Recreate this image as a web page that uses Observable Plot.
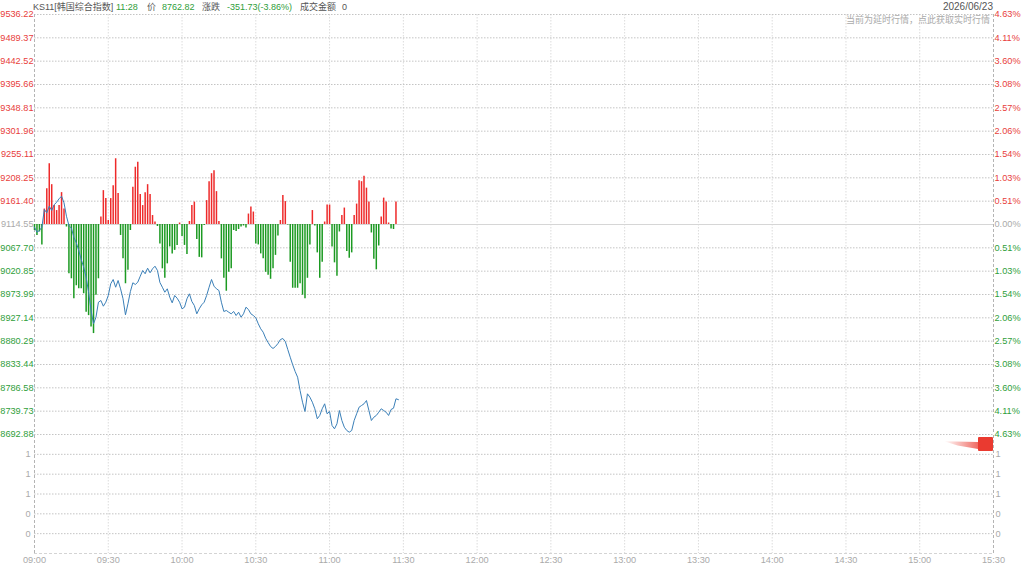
<!DOCTYPE html>
<html>
<head>
<meta charset="utf-8">
<script src="https://cdn.jsdelivr.net/npm/d3@7"></script>
<script src="https://cdn.jsdelivr.net/npm/@observablehq/plot@0.6"></script>
<style>
  body { margin: 0; background: #fff; }
  #chart { position: relative; width: 1024px; height: 568px; overflow: hidden;
    font-family: "Liberation Sans", "Noto Sans CJK SC", sans-serif; }
  #chart svg { position: absolute; left: 0; }
  .hd { position: absolute; top: 0; font-size: 9px; line-height: 14px; white-space: nowrap; }
  .gray { color: #555; }
  .green { color: #2f9e3a; }
  #marker { position: absolute; left: 978px; top: 437px; width: 15px; height: 14px;
    background: #ea3a30; border-radius: 1px; }
  #tail { position: absolute; left: 944px; top: 437px; width: 34px; height: 14px;
    background: linear-gradient(to right, rgba(234,58,48,0), rgba(234,58,48,0.75));
    clip-path: polygon(0 30%, 100% 35%, 100% 85%, 40% 60%); }
</style>
</head>
<body>
<div id="chart"></div>
<script>
// KS11 intraday, 2026/06/23, one value per minute from 09:00 to 11:28
const prevClose = 9114.55;

const timeLabels = ["09:00", "09:30", "10:00", "10:30", "11:00", "11:30", "12:00",
  "12:30", "13:00", "13:30", "14:00", "14:30", "15:00", "15:30"];

const priceTicks = [9536.22, 9489.37, 9442.52, 9395.66, 9348.81, 9301.96, 9255.11,
  9208.25, 9161.40, 9114.55, 9067.70, 9020.85, 8973.99, 8927.14, 8880.29, 8833.44,
  8786.58, 8739.73, 8692.88];

const volumeTicks = [1.0, 0.8, 0.6, 0.4, 0.2];

const prices = [
  9109.1, 9099.1, 9102.5, 9109.1, 9144.7, 9138.0, 9151.3, 9142.7, 9154.1, 9159.3,
  9166.2, 9171.4, 9158.1, 9131.2, 9112.5, 9107.1, 9089.0, 9077.8, 9062.3, 9044.3,
  9028.8, 9008.7, 8978.6, 8941.9, 8915.2, 8928.4, 8958.5, 8961.9, 8950.5, 8958.5,
  8972.0, 8995.5, 9004.1, 8988.6, 9002.1, 8985.4, 8965.4, 8933.2, 8955.3, 8980.0,
  8997.5, 8994.1, 8998.7, 9010.7, 9022.2, 9015.6, 9026.8, 9017.6, 9025.6, 9030.8,
  9022.2, 8998.1, 8988.6, 8978.6, 8985.4, 8968.6, 8957.3, 8972.0, 8966.6, 8958.5,
  8945.3, 8948.5, 8965.4, 8975.4, 8959.9, 8951.9, 8935.2, 8945.3, 8953.3, 8958.5,
  8972.0, 8988.6, 9004.1, 8990.7, 8985.4, 8982.0, 8958.5, 8939.9, 8941.9, 8938.4,
  8935.2, 8939.9, 8931.8, 8938.4, 8928.4, 8935.2, 8948.5, 8943.9, 8935.2, 8931.8,
  8927.2, 8915.2, 8905.1, 8898.3, 8886.2, 8877.6, 8869.6, 8865.6, 8869.6, 8875.6,
  8883.6, 8885.6, 8879.6, 8863.5, 8848.1, 8832.9, 8819.4, 8807.9, 8781.2, 8757.7,
  8739.1, 8774.6, 8767.8, 8757.7, 8744.5, 8724.4, 8731.1, 8744.5, 8754.5, 8734.4,
  8739.1, 8711.0, 8704.3, 8714.4, 8741.1, 8721.0, 8707.5, 8700.9, 8697.5, 8700.9,
  8721.0, 8734.4, 8747.7, 8751.1, 8754.5, 8761.1, 8741.1, 8721.0, 8727.6, 8731.1,
  8737.6, 8744.5, 8741.1, 8737.6, 8731.1, 8743.1, 8745.7, 8764.6, 8762.82
];

// red / green strength bars, in index points above / below the previous close
const strength = [
  -12, -22, -15, -41, 31, 72, 122, 80, 38, 28,
  38, 64, 31, -5, -99, -109, -149, -123, -129, -129,
  -139, -176, -183, -206, -219, -142, -109, 15, 68, 52,
  8, 52, 78, 132, 62, -22, -69, -119, -92, -12,
  75, 115, 125, 60, 38, 64, 80, 60, 18, 5,
  -4, -39, -89, -108, -79, -45, -59, -52, -42, 3,
  -24, -42, -60, 6, 38, 45, -30, -66, -67, -2,
  48, 86, 102, 108, 66, 6, -69, -108, -134, -96,
  -89, -12, -14, -10, -5, -3, -7, 21, 35, 25,
  -39, -41, -59, -69, -96, -102, -110, -89, -62, -23,
  8, 58, 46, -1, -76, -128, -128, -128, -119, -142,
  -149, -108, -41, 28, -3, -57, -108, -76, 5, 39,
  39, -45, -77, -104, -15, 18, 33, -54, -68, -57,
  18, 41, 88, 86, 97, 73, 45, -17, -70, -91,
  -43, 15, 53, 45, 3, -9, -10, 45, 0
];

const RED = "#ee2a2a";
const GREEN = "#1c9a22";
const labelRed = "#e8403c";
const labelGreen = "#2f9e3a";
const labelGray = "#aaa";

const timeMin = timeLabels.map((s) => {
  const [h, m] = s.split(":").map(Number);
  return (h - 9) * 60 + m;
});
const innerTimes = timeMin.slice(1, -1);

const tickColor = (p) =>
  p > prevClose + 0.001 ? labelRed : p < prevClose - 0.001 ? labelGreen : labelGray;
const pct = (p) => (Math.abs(p - prevClose) / prevClose * 100).toFixed(2) + "%";

const common = {
  width: 1024,
  marginLeft: 34,
  marginRight: 31,
  x: { domain: [0, 390], axis: null },
  style: {
    background: "transparent",
    overflow: "visible",
    fontFamily: '"Liberation Sans", "Noto Sans CJK SC", sans-serif',
    fontSize: "9.2px",
  },
};

const pricePlot = Plot.plot({
  ...common,
  height: 435,
  marginTop: 14,
  marginBottom: 1,
  y: { domain: [priceTicks.at(-1), priceTicks[0]], axis: null },
  marks: [
    Plot.ruleX(innerTimes, { stroke: "#dcdcdc", strokeDasharray: "1.5,1.5" }),
    Plot.ruleY(priceTicks.filter((p) => p !== prevClose), {
      stroke: "#c4c4c4",
      strokeDasharray: "1.5,1.5",
    }),
    Plot.ruleY([prevClose], { stroke: "#d6d6d6" }),
    Plot.ruleX([0, 390], { stroke: "#b4b4b4", strokeDasharray: "3,2" }),
    Plot.ruleX(strength, {
      x: (d, i) => i,
      y1: prevClose,
      y2: (d) => prevClose + d,
      stroke: (d) => (d >= 0 ? RED : GREEN),
      strokeWidth: 1.5,
    }),
    Plot.line(prices, {
      x: (d, i) => i,
      y: (d) => d,
      stroke: "#3a7fb8",
      strokeWidth: 1,
    }),
    Plot.text(priceTicks, {
      y: (d) => d,
      text: (d) => d.toFixed(2),
      frameAnchor: "left",
      textAnchor: "end",
      dx: -1,
      fill: tickColor,
    }),
    Plot.text(priceTicks, {
      y: (d) => d,
      text: pct,
      frameAnchor: "right",
      textAnchor: "start",
      dx: 1,
      fill: tickColor,
    }),
  ],
});
pricePlot.style.top = "0px";

const volumePlot = Plot.plot({
  ...common,
  height: 133,
  marginTop: 0,
  marginBottom: 15,
  y: { domain: [0, 1.19], axis: null },
  marks: [
    Plot.ruleX(innerTimes, { stroke: "#dcdcdc", strokeDasharray: "1.5,1.5" }),
    Plot.ruleY(volumeTicks, { stroke: "#c4c4c4", strokeDasharray: "1.5,1.5" }),
    Plot.ruleY([0], { stroke: "#d4d4d4", strokeDasharray: "3,2" }),
    Plot.ruleX([0, 390], { stroke: "#b4b4b4", strokeDasharray: "3,2" }),
    Plot.text(volumeTicks, {
      y: (d) => d,
      text: (d) => String(Math.round(d)),
      frameAnchor: "left",
      textAnchor: "end",
      dx: -4,
      fill: labelGray,
    }),
    Plot.text(volumeTicks, {
      y: (d) => d,
      text: (d) => String(Math.round(d)),
      frameAnchor: "right",
      textAnchor: "start",
      dx: 2,
      fill: labelGray,
    }),
    Plot.text(timeMin, {
      x: (d) => d,
      text: (d, i) => timeLabels[i],
      frameAnchor: "bottom",
      dy: 9,
      fill: labelGray,
    }),
  ],
});
volumePlot.style.top = "435px";

const chart = document.querySelector("#chart");
chart.append(pricePlot, volumePlot);

// header texts
const header = [
  ["KS11[韩国综合指数]", 33, "gray"],
  ["11:28", 116, "green"],
  ["价", 147, "gray"],
  ["8762.82", 162, "green"],
  ["涨跌", 202, "gray"],
  ["-351.73(-3.86%)", 227, "green"],
  ["成交金额", 300, "gray"],
  ["0", 342, "gray"],
];
for (const [txt, left, cls] of header) {
  const s = document.createElement("span");
  s.className = "hd " + cls;
  s.style.left = left + "px";
  s.textContent = txt;
  chart.append(s);
}
const date = document.createElement("span");
date.className = "hd gray";
date.style.cssText = "right:31px;font-size:10px;";
date.textContent = "2026/06/23";
chart.append(date);

const note = document.createElement("span");
note.className = "hd";
note.style.cssText = "right:34px;top:13px;font-size:9px;color:#aaa;";
note.textContent = "当前为延时行情，点此获取实时行情";
chart.append(note);

const tail = document.createElement("div");
tail.id = "tail";
chart.append(tail);
const marker = document.createElement("div");
marker.id = "marker";
chart.append(marker);
</script>
</body>
</html>
